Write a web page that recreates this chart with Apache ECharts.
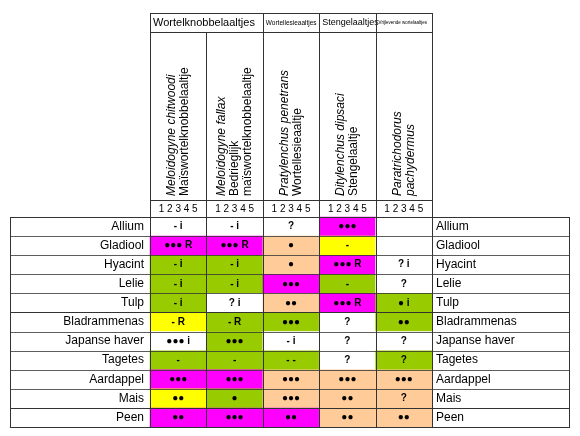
<!DOCTYPE html>
<html><head><meta charset="utf-8">
<script src="https://cdn.jsdelivr.net/npm/echarts@6/dist/echarts.min.js"></script>
<style>html,body{margin:0;padding:0;background:#fff}#c{width:580px;height:436px}</style>
</head><body><div id="c"></div>
<script>
const crops = ['Allium','Gladiool','Hyacint','Lelie','Tulp','Bladrammenas','Japanse haver','Tagetes','Aardappel','Mais','Peen'];
const columns = ['1','2','3','4','5'];
// colour class per cell: 0 white, 1 green, 2 yellow, 3 peach, 4 magenta
const colorCodes = [
  [0,0,0,4,0],
  [4,4,3,2,0],
  [1,1,3,4,0],
  [1,1,4,1,0],
  [1,0,3,4,1],
  [2,1,1,0,1],
  [0,1,0,0,0],
  [1,1,1,0,1],
  [4,4,3,3,3],
  [2,1,3,3,3],
  [4,4,4,3,3]
];
const cellTexts = [
  ['- i','- i','?','●●●',''],
  ['●●● R','●●● R','●','-',''],
  ['- i','- i','●','●●● R','? i'],
  ['- i','- i','●●●','-','?'],
  ['- i','? i','●●','●●● R','● i'],
  ['- R','- R','●●●','?','●●'],
  ['●●● i','●●●','- i','?','?'],
  ['-','-','- -','?','?'],
  ['●●●','●●●','●●●','●●●','●●●'],
  ['●●','●','●●●','●●','?'],
  ['●●','●●●','●●','●●','●●']
];
const groupHeaders = ['Wortelknobbelaaltjes','Wortellesieaaltjes','Stengelaaltjes','Vrijlevende wortelaaltjes'];
const speciesLatin = ['Meloidogyne chitwoodi','Meloidogyne fallax','Pratylenchus penetrans','Ditylenchus dipsaci','Paratrichodorus pachydermus'];
const speciesDutch = ['Maïswortelknobbelaaltje','Bedrieglijk\nmaïswortelknobbelaaltje','Wortellesieaaltje','Stengelaaltje',''];
const scaleLabel = '1 2 3 4 5';
const palette = ['#ffffff','#99cc00','#ffff00','#ffcc99','#ff00ff'];

const data = [];
colorCodes.forEach((row,r)=>row.forEach((v,c)=>data.push([c,r,v,cellTexts[r][c]])));

const L=150, R=432, T=217, B=427, X0=10, X1=570;
const cw=(R-L)/5, rh=(B-T)/crops.length;
const g=[];
const line=(x1,y1,x2,y2,w)=>g.push({type:'line',shape:{x1,y1,x2,y2},style:{stroke:'#333',lineWidth:w||1},z:100});
// table lines
for(let i=0;i<=crops.length;i++){const y=Math.round(T+i*rh)+0.5;line(X0,y,X1,y,(i==0||i==5||i==10||i==11)?1.2:0.8);}
line(X0+0.5,T,X0+0.5,B);line(X1-0.5,T,X1-0.5,B);
for(let i=0;i<=5;i++){const x=Math.round(L+i*cw)+0.5;line(x,i==1?32:13,x,B);}
line(L,13.5,R,13.5);line(L,32.5,R,32.5);line(L,200.5,R,200.5);
// group headers
const gh=[[L,L+2*cw,11],[L+2*cw,L+3*cw,6.5],[L+3*cw,L+4*cw,9],[L+4*cw,R,4.5]];
gh.forEach((h,i)=>g.push({type:'text',x:h[0]+3,y:23,style:{text:groupHeaders[i],fontSize:h[2],fontFamily:'Liberation Sans',fill:'#000',align:'left',verticalAlign:'middle'}}));
// species
speciesLatin.forEach((s,i)=>{
  const nLines = 1 + (speciesDutch[i]? speciesDutch[i].split('\n').length:0);
  const extra = i==4 ? 'pachydermus' : null;
  const txt = i==4 ? '{i|Paratrichodorus}\n{i|pachydermus}' :
    '{i|'+s+'}\n'+speciesDutch[i].split('\n').map(t=>'{n|'+t+'}').join('\n');
  g.push({type:'text',x:L+cw*(i+0.5),y:196,rotation:Math.PI/2,
    style:{text:txt,align:'left',verticalAlign:'middle',fontFamily:'Liberation Sans',lineHeight:13,
      rich:{i:{fontStyle:'italic',fontSize:12,fontFamily:'Liberation Sans',lineHeight:13},n:{fontSize:12,fontFamily:'Liberation Sans',lineHeight:13}}}});
  g.push({type:'text',x:L+cw*(i+0.5),y:209,style:{text:scaleLabel,fontSize:10,fontFamily:'Liberation Sans',align:'center',verticalAlign:'middle',fill:'#000'}});
});

const chart=echarts.init(document.getElementById('c'));
chart.setOption({
  animation:false,
  grid:{left:L,right:580-R,top:T,bottom:436-B},
  xAxis:{type:'category',data:columns,show:false},
  yAxis:[
    {type:'category',data:crops,inverse:true,axisLine:{show:false},axisTick:{show:false},
     axisLabel:{color:'#000',fontSize:12,fontFamily:'Liberation Sans',margin:6}},
    {type:'category',data:crops,inverse:true,position:'right',axisLine:{show:false},axisTick:{show:false},
     axisLabel:{color:'#000',fontSize:12,fontFamily:'Liberation Sans',margin:4,align:'left'}}
  ],
  visualMap:{type:'piecewise',show:false,dimension:2,pieces:palette.map((c,i)=>({value:i,color:c}))},
  series:[{type:'heatmap',data,
    label:{show:true,formatter:p=>p.data[3],fontSize:10,fontWeight:'bold',color:'#000',fontFamily:'Liberation Sans'}}],
  graphic:g
});
</script></body></html>
